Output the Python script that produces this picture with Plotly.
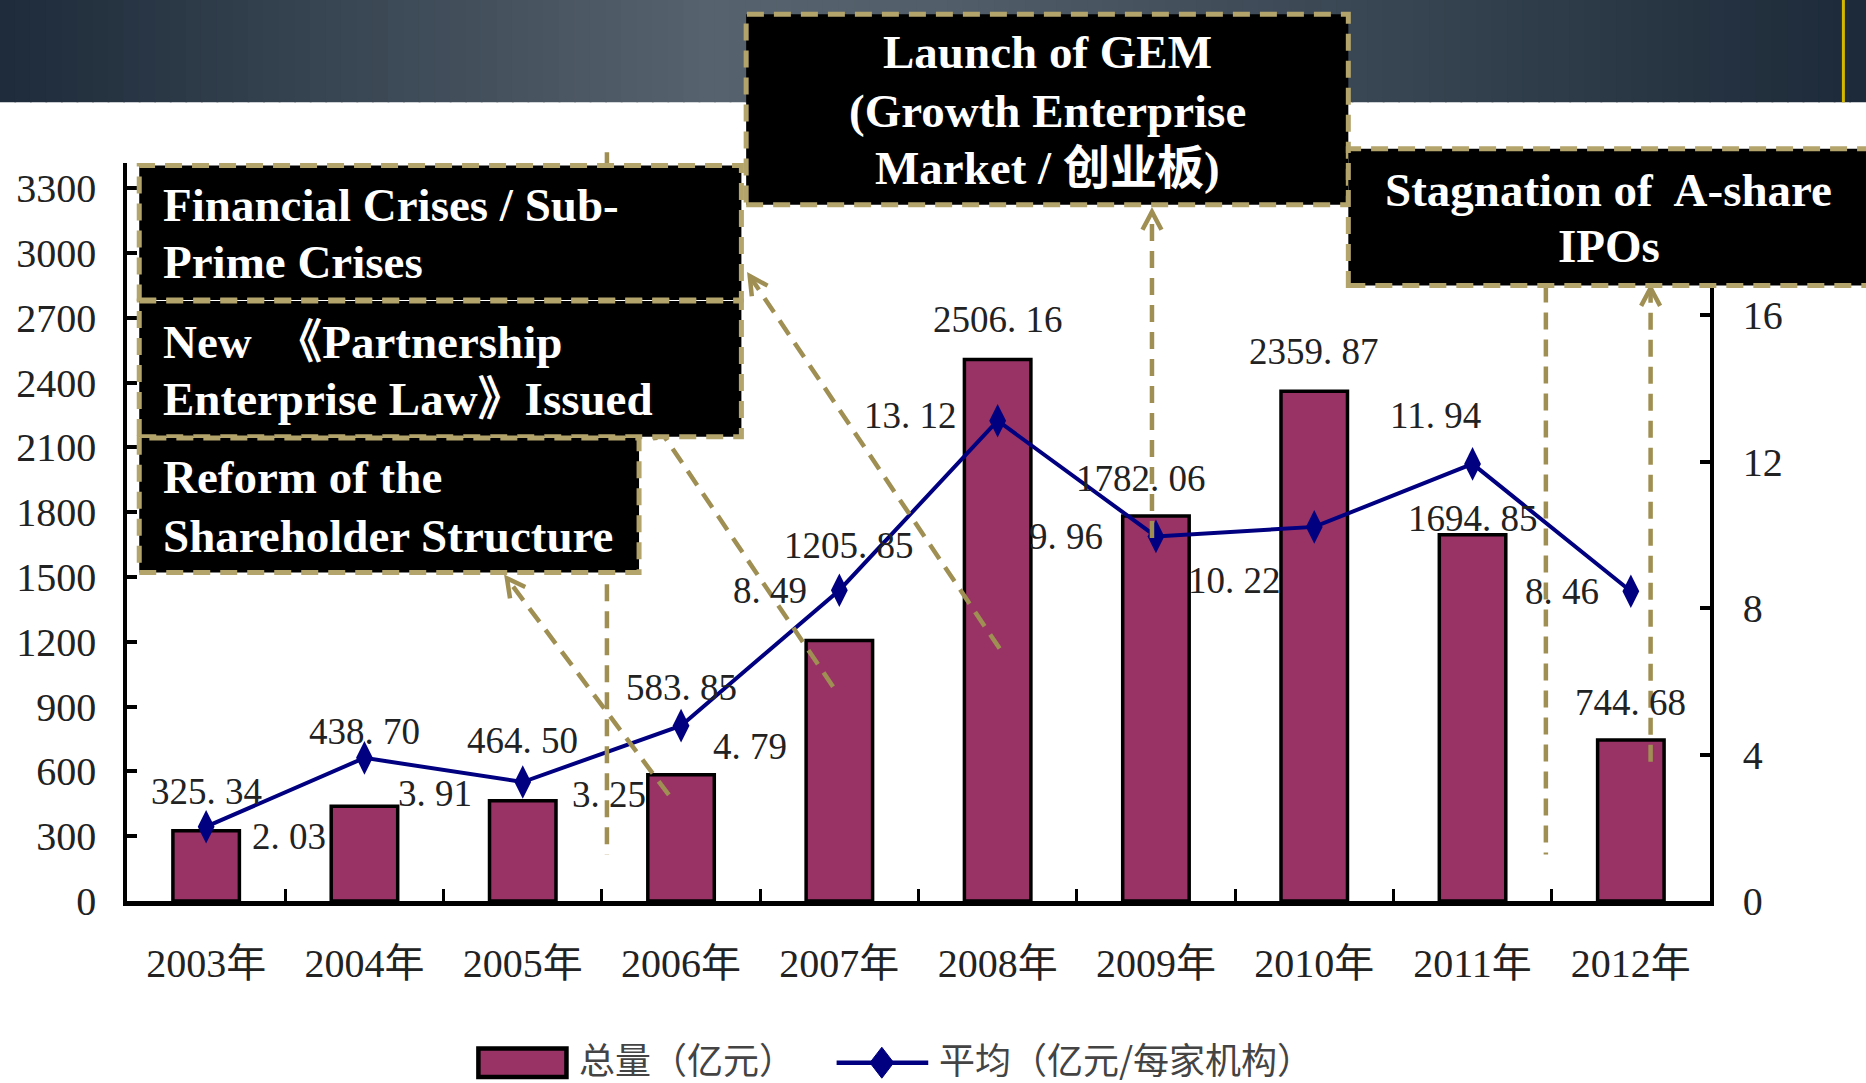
import math
import plotly.graph_objects as go

# ---------------- data ----------------
years = ["2003年", "2004年", "2005年", "2006年", "2007年",
         "2008年", "2009年", "2010年", "2011年", "2012年"]
totals = [325.34, 438.70, 464.50, 583.85, 1205.85,
          2506.16, 1782.06, 2359.87, 1694.85, 744.68]
averages = [2.03, 3.91, 3.25, 4.79, 8.49, 13.12, 9.96, 10.22, 11.94, 8.46]
left_ticks = [0, 300, 600, 900, 1200, 1500, 1800, 2100, 2400, 2700, 3000, 3300]
right_ticks = [0, 4, 8, 12, 16]
series_names = ["总量（亿元）", "平均（亿元/每家机构）"]
box_lines = [
    ["Financial Crises / Sub-", "Prime Crises"],
    ["New &nbsp;《Partnership", "Enterprise Law》Issued"],
    ["Reform of the", "Shareholder Structure"],
    ["Launch of GEM", "(Growth Enterprise", "Market / 创业板)"],
    ["Stagnation of&nbsp; A-share", "IPOs"],
]

# ---------------- layout helpers (label offsets in px) ----------------
bar_xshift = [0, 0, 0, 0, 10, 0, -15, 0, 0, 0]
bar_yshift = [39, 75, 60, 87, 95, 40, 38, 40, 16, 38]
avg_xshift = [83, 71, 86, 69, -69, -87, -90, -80, -37, -69]
avg_yshift = [-10, -36, -12, -21, 0, 5, 0, -54, 48, 0]

W, H = 1866, 1083
S = 1866 / 1568.0
L, R, T, B = 127, 156, 163, 182
PW, PH = W - L - R, H - T - B


def px(xd):
    return (xd * S - L) / PW


def py(yd):
    return (H - B - yd * S) / PH


def fmt(v):
    return f"{v:.2f}".replace(".", ". ")


NUM_FONT = "Liberation Serif, Noto Sans CJK SC, serif"
BOX_FONT = "Liberation Serif, Noto Sans CJK SC, serif"
PLUM = "#993366"
NAVY = "#000080"
TAN = "#B3A46C"
OLIVE = "#A08F52"

fig = go.Figure()
fig.add_trace(go.Bar(
    x=years, y=totals, name=series_names[0], width=0.42,
    marker=dict(color=PLUM, line=dict(color="black", width=3.5)),
    yaxis="y", showlegend=False,
))
fig.add_trace(go.Scatter(
    x=years, y=averages, name=series_names[1], mode="lines+markers",
    line=dict(color=NAVY, width=4),
    marker=dict(symbol="diamond-tall", size=24, color=NAVY),
    yaxis="y2", showlegend=False,
))

shapes = []
annotations = []

# banner gradient
stops = [(0.0, (29, 43, 58)), (0.38, (86, 98, 109)), (0.5, (82, 94, 105)), (1.0, (28, 42, 57))]


def grad(t):
    for (a, ca), (b, cb) in zip(stops[:-1], stops[1:]):
        if a <= t <= b:
            u = (t - a) / (b - a)
            return tuple(int(round(ca[k] + (cb[k] - ca[k]) * u)) for k in range(3))
    return stops[-1][1]


N = 120
banner_bottom = 86
for i in range(N):
    x0d = 1568 * i / N
    x1d = 1568 * (i + 1) / N + 0.5
    c = grad((i + 0.5) / N)
    shapes.append(dict(type="rect", xref="paper", yref="paper",
                       x0=px(x0d - 1), x1=px(x1d), y0=py(banner_bottom), y1=py(-2),
                       fillcolor=f"rgb{c}", line=dict(width=0), layer="below"))
shapes.append(dict(type="line", xref="paper", yref="paper",
                   x0=px(1549), x1=px(1549), y0=py(0), y1=py(banner_bottom),
                   line=dict(color="#D4B800", width=3)))

# dashed guide lines
DASH = "17px,10px"
guide_lines = [((510, 128), (510, 718)), ((1299, 240), (1299, 718))]
for (a, b) in guide_lines:
    shapes.append(dict(type="line", xref="paper", yref="paper",
                       x0=px(a[0]), y0=py(a[1]), x1=px(b[0]), y1=py(b[1]),
                       line=dict(color=OLIVE, width=4.5, dash=DASH)))

arrows = [((840, 545), (630, 232)), ((700, 577), (549, 353)),
          ((562, 668), (426, 486)), ((968, 452), (968, 178)),
          ((1387, 640), (1387, 242))]
for (s, t) in arrows:
    shapes.append(dict(type="line", xref="paper", yref="paper",
                       x0=px(s[0]), y0=py(s[1]), x1=px(t[0]), y1=py(t[1]),
                       line=dict(color=OLIVE, width=4.5, dash=DASH)))
    dx, dy = s[0] - t[0], s[1] - t[1]
    ln = math.hypot(dx, dy)
    ux, uy = dx / ln, dy / ln
    arms = []
    for ang in (math.radians(28), -math.radians(28)):
        rx = ux * math.cos(ang) - uy * math.sin(ang)
        ry = ux * math.sin(ang) + uy * math.cos(ang)
        arms.append((t[0] + rx * 17, t[1] + ry * 17))
    path = (f"M {px(arms[0][0])},{py(arms[0][1])} L {px(t[0])},{py(t[1])} "
            f"L {px(arms[1][0])},{py(arms[1][1])}")
    shapes.append(dict(type="path", xref="paper", yref="paper", path=path,
                       line=dict(color=OLIVE, width=4.5)))

# black boxes
boxes = [(117, 139, 623, 252), (117, 253, 623, 367), (117, 368, 537, 481),
         (627, 12, 1133, 172), (1133, 125, 1580, 240)]
for (x0, y0, x1, y1) in boxes:
    shapes.append(dict(type="rect", xref="paper", yref="paper",
                       x0=px(x0), x1=px(x1), y0=py(y1), y1=py(y0),
                       fillcolor="black",
                       line=dict(color=TAN, width=5, dash="17px,10px")))

box_x = [(135, "left"), (135, "left"), (135, "left"), (880, "center"), (1352, "center")]
box_line_y = [[172, 220], [287, 335], [401, 450], [44, 93, 141], [160, 207]]
for lines, (xa, al), ys in zip(box_lines, box_x, box_line_y):
    for txt, ya in zip(lines, ys):
        annotations.append(dict(xref="paper", yref="paper", x=px(xa), y=py(ya),
                                text=f"<b>{txt}</b>", showarrow=False,
                                xanchor=al, yanchor="middle", align=al,
                                font=dict(family=BOX_FONT, size=47, color="white")))

# value labels
for i, y in enumerate(years):
    annotations.append(dict(x=y, y=totals[i], xref="x", yref="y",
                            text=fmt(totals[i]), showarrow=False,
                            xshift=bar_xshift[i], yshift=bar_yshift[i],
                            xanchor="center", yanchor="middle",
                            font=dict(family=NUM_FONT, size=37, color="#222222")))
    annotations.append(dict(x=y, y=averages[i], xref="x", yref="y2",
                            text=fmt(averages[i]), showarrow=False,
                            xshift=avg_xshift[i], yshift=avg_yshift[i],
                            xanchor="center", yanchor="middle",
                            font=dict(family=NUM_FONT, size=37, color="#222222")))

# custom legend
shapes.append(dict(type="rect", xref="paper", yref="paper",
                   x0=px(402), x1=px(476), y0=py(905), y1=py(881),
                   fillcolor=PLUM, line=dict(color="black", width=4.5)))
shapes.append(dict(type="line", xref="paper", yref="paper",
                   x0=px(703), x1=px(780), y0=py(893), y1=py(893),
                   line=dict(color=NAVY, width=4.5)))
dpath = (f"M {px(741)},{py(880)} L {px(751)},{py(893)} L {px(741)},{py(906)} "
         f"L {px(731)},{py(893)} Z")
shapes.append(dict(type="path", xref="paper", yref="paper", path=dpath,
                   fillcolor=NAVY, line=dict(color=NAVY, width=1)))
annotations.append(dict(xref="paper", yref="paper", x=px(485), y=py(889),
                        text=series_names[0], showarrow=False, xanchor="left",
                        yanchor="middle",
                        font=dict(family="Noto Sans CJK SC", size=36, color="#444444")))
annotations.append(dict(xref="paper", yref="paper", x=px(787), y=py(889),
                        text=series_names[1], showarrow=False, xanchor="left",
                        yanchor="middle",
                        font=dict(family="Noto Sans CJK SC", size=36, color="#444444")))

fig.update_layout(
    width=W, height=H,
    margin=dict(l=L, r=R, t=T, b=B, pad=0),
    paper_bgcolor="white", plot_bgcolor="white",
    showlegend=False,
    shapes=shapes,
    annotations=annotations,
    xaxis=dict(type="category", range=[-0.5, 9.5], showline=True, linewidth=5,
               linecolor="black", ticks="inside", tickson="boundaries", ticklen=12,
               tickwidth=3, tickcolor="black", showgrid=False, zeroline=False,
               ticklabelstandoff=23,
               tickfont=dict(family=NUM_FONT, size=40, color="#222222")),
    yaxis=dict(range=[0, 3416], tickvals=left_ticks, showline=True, linewidth=3.5,
               linecolor="black", ticks="inside", ticklen=10, tickwidth=4,
               tickcolor="black", showgrid=False, zeroline=False,
               ticklabelstandoff=19,
               tickfont=dict(family=NUM_FONT, size=40, color="#222222")),
    yaxis2=dict(range=[0, 20.16], tickvals=right_ticks, overlaying="y", side="right",
                showline=True, linewidth=3.5, linecolor="black", ticks="inside",
                ticklen=10, tickwidth=4, tickcolor="black", showgrid=False,
                zeroline=False, ticklabelstandoff=21,
                tickfont=dict(family=NUM_FONT, size=40, color="#222222")),
)

fig.write_html("out.html", config={"displayModeBar": False},
               post_script="document.body.style.margin='0';document.body.style.padding='0';")
